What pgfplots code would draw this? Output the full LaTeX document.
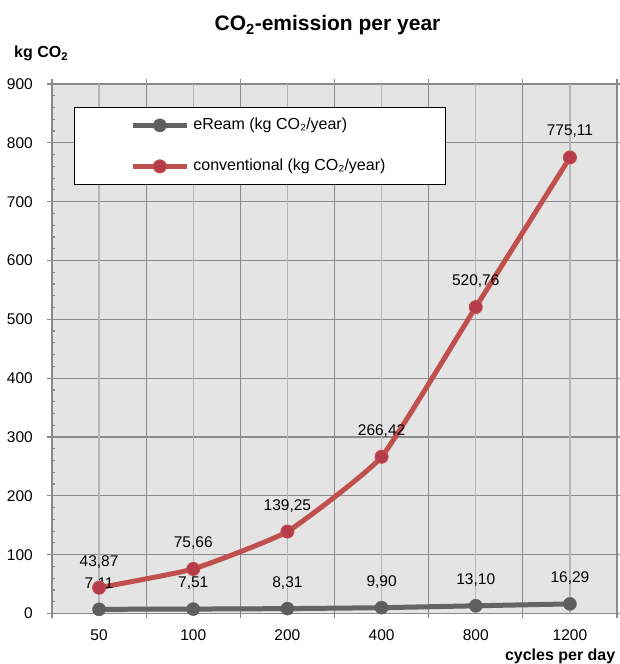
\documentclass[border=0pt]{standalone}
\usepackage{fontspec}
\setmainfont{Liberation Sans}
\usepackage{pgfplots}
\pgfplotsset{compat=1.18}

\definecolor{bgc}{HTML}{E4E4E4}
\definecolor{gridd}{HTML}{8A8A8A}
\definecolor{gridl}{HTML}{B6B6B6}
\definecolor{grayline}{HTML}{646464}
\definecolor{graymark}{HTML}{5E5E5E}
\definecolor{redline}{HTML}{C0504D}
\definecolor{redmark}{HTML}{B63B4B}

\newcommand{\lbl}{\fontsize{15.5}{18}\selectfont}

\begin{document}
\begin{tikzpicture}[x=1pt,y=1pt]
\useasboundingbox (0,0) rectangle (619,664);

\node[anchor=base, font=\bfseries\fontsize{21}{24}\selectfont] at (327.5,633) {CO\textsubscript{2}-emission per year};
\node[anchor=base west, inner sep=0pt, font=\bfseries\fontsize{16}{18}\selectfont] at (14,606) {kg CO\textsubscript{2}};
\node[anchor=base east, inner sep=0pt, font=\bfseries\fontsize{16}{18}\selectfont] at (615.5,3.5) {cycles per day};

\begin{axis}[
  at={(52pt,50.5pt)}, anchor=south west,
  width=565pt, height=529.5pt, scale only axis,
  xmin=-0.5, xmax=5.5, ymin=0, ymax=900,
  clip=false,
  font=\lbl,
  axis background/.style={fill=bgc},
  axis line style={draw=gridd, line width=1.2pt},
  xtick={-0.5,0.5,...,5.5}, xticklabels={},
  extra x ticks={0,1,2,3,4,5},
  extra x tick labels={50,100,200,400,800,1200},
  extra x tick style={grid=major, major tick length=0pt,
    major grid style={draw=gridl, line width=1.2pt}},
  ytick={0,100,...,900},
  minor y tick num=4,
  grid=major,
  major grid style={draw=gridd, line width=1.2pt},
  tick align=outside,
  major tick length=5pt, minor tick length=3pt,
  tick style={draw=gridd, line width=1.2pt},
  minor y tick style={xshift=3pt},
  /pgf/number format/assume math mode=true,
  xticklabel style={inner sep=0pt, text height=11pt, text depth=0pt, yshift=-15.5pt, font=\lbl},
  yticklabel style={inner sep=0pt, text height=11pt, text depth=0pt, xshift=-14pt, font=\lbl},
  nodes near coords,
  point meta=explicit symbolic,
  every node near coord/.append style={inner sep=0pt, text depth=0pt, yshift=21pt, font=\lbl, text=black},
  legend cell align=left,
  legend image code/.code={\draw[#1, mark repeat=2, mark phase=2] plot coordinates {(0pt,0pt) (27pt,0pt) (54pt,0pt)};},
  legend style={at={(0.0389,0.9566)}, anchor=north west, draw=black, line width=0.8pt,
    fill=white, inner xsep=56pt, inner ysep=10.5pt, row sep=26pt, font=\fontsize{16}{18}\selectfont,
    nodes={inner xsep=4pt, inner ysep=0pt, text height=11.5pt, text depth=3.5pt}},
]
\addplot[color=grayline, line width=5pt, smooth, tension=0.25, mark=*, mark size=6.5pt,
  mark options={fill=graymark, draw=graymark, line width=0.5pt}]
  coordinates {(0,7.11)[7,11] (1,7.51)[7,51] (2,8.31)[8,31] (3,9.90)[9,90] (4,13.10)[13,10] (5,16.29)[16,29]};
\addlegendentry{eReam (kg CO₂/year)}
\addplot[color=redline, line width=5pt, smooth, tension=0.25, mark=*, mark size=6.5pt,
  mark options={fill=redmark, draw=redline, line width=1pt}]
  coordinates {(0,43.87)[43,87] (1,75.66)[75,66] (2,139.25)[139,25] (3,266.42)[266,42] (4,520.76)[520,76] (5,775.11)[775,11]};
\addlegendentry{conventional (kg CO₂/year)}
\end{axis}
\end{tikzpicture}
\end{document}
